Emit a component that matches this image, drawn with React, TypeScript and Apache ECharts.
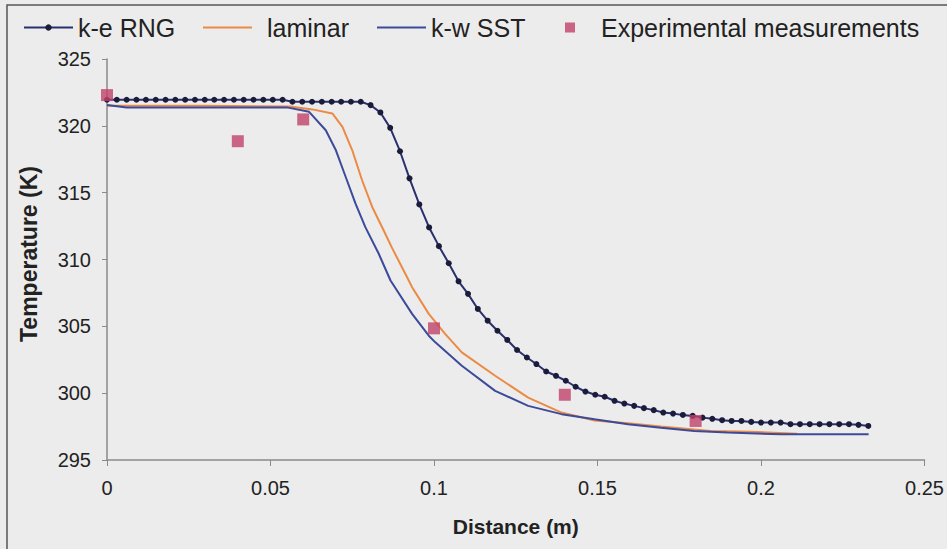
import React, { useEffect, useRef } from "react";
import * as echarts from "echarts";

const FONT = "'Liberation Sans', Arial, sans-serif";

// k-e RNG (distance m, temperature K)
const rngDistance = [
  0, 0.003, 0.006, 0.009, 0.0119, 0.0149, 0.0179, 0.0209, 0.0239, 0.0269,
  0.0299, 0.0328, 0.0358, 0.0388, 0.0418, 0.0448, 0.0478, 0.0507, 0.0537, 0.0567,
  0.0597, 0.0627, 0.0657, 0.0687, 0.0716, 0.0746, 0.0776, 0.0806, 0.0836, 0.0866,
  0.0896, 0.0925, 0.0955, 0.0985, 0.1015, 0.1045, 0.1075, 0.1104, 0.1134, 0.1164,
  0.1194, 0.1224, 0.1254, 0.1284, 0.1313, 0.1343, 0.1373, 0.1403, 0.1433, 0.1463,
  0.1493, 0.1522, 0.1552, 0.1582, 0.1612, 0.1642, 0.1672, 0.1701, 0.1731, 0.1761,
  0.1791, 0.1821, 0.1851, 0.1881, 0.191, 0.194, 0.197, 0.2, 0.203, 0.206,
  0.209, 0.2119, 0.2149, 0.2179, 0.2209, 0.2239, 0.2269, 0.2298, 0.2328,
];
const rngTemp = [
  321.95, 321.95, 321.95, 321.95, 321.95, 321.95, 321.95, 321.95, 321.95, 321.95,
  321.95, 321.95, 321.95, 321.95, 321.95, 321.95, 321.95, 321.95, 321.95, 321.8,
  321.8, 321.8, 321.8, 321.8, 321.8, 321.8, 321.8, 321.55, 321.0, 319.85,
  318.1, 316.07, 314.12, 312.4, 311.0, 309.72, 308.37, 307.43, 306.3, 305.42,
  304.67, 303.98, 303.23, 302.67, 302.18, 301.62, 301.3, 300.93, 300.48, 300.12,
  299.88, 299.73, 299.43, 299.22, 299.05, 298.88, 298.73, 298.55, 298.47, 298.37,
  298.3, 298.17, 298.08, 297.98, 297.92, 297.92, 297.85, 297.8, 297.8, 297.8,
  297.68, 297.68, 297.68, 297.68, 297.68, 297.68, 297.68, 297.63, 297.55,
];

// laminar
const lamDistance = [
  0, 0.03, 0.056, 0.0628, 0.0689, 0.072, 0.075, 0.078, 0.0811, 0.0841, 0.0872,
  0.0913, 0.0933, 0.0984, 0.1034, 0.1085, 0.1187, 0.1288, 0.139, 0.1491, 0.1593,
  0.1694, 0.1846, 0.1968, 0.211,
];
const lamTemp = [
  321.5, 321.5, 321.45, 321.23, 320.93, 319.92, 318.17, 315.93, 313.93, 312.43, 310.85,
  308.9, 307.93, 305.93, 304.43, 303.05, 301.3, 299.67, 298.55, 297.95, 297.75,
  297.5, 297.17, 297.12, 296.97,
];

// k-w SST
const sstDistance = [
  0, 0.006, 0.055, 0.0618, 0.0669, 0.07, 0.073, 0.076, 0.079, 0.0831, 0.0867,
  0.0933, 0.0984, 0.1004, 0.1085, 0.1187, 0.1288, 0.139, 0.1491, 0.1593,
  0.1694, 0.1796, 0.1897, 0.206, 0.2329,
];
const sstTemp = [
  321.55, 321.38, 321.38, 321.05, 319.67, 318.17, 316.17, 314.18, 312.42, 310.43, 308.43,
  305.93, 304.3, 303.8, 302.05, 300.17, 299.05, 298.43, 298.05, 297.68,
  297.42, 297.17, 297.05, 296.93, 296.93,
];

// Experimental measurements
const expDistance = [0, 0.04, 0.06, 0.1, 0.14, 0.18];
const expTemp = [322.3, 318.85, 320.48, 304.85, 299.88, 297.92];

const xTicks = { min: 0, max: 0.25, interval: 0.05 };
const yTicks = { min: 295, max: 325, interval: 5 };

const zip = (xs: number[], ys: number[]) => xs.map((x, i) => [x, ys[i]]);

export default function App() {
  const ref = useRef<HTMLDivElement>(null);
  useEffect(() => {
    if (!ref.current) return;
    const chart = echarts.init(ref.current, undefined, { renderer: "svg" });
    const legendText = { fontSize: 25, fontFamily: FONT, color: "#222" };
    chart.setOption({
      animation: false,
      backgroundColor: "#ececec",
      graphic: [
        {
          type: "rect",
          shape: { x: 7, y: 5, width: 1000, height: 1000 },
          style: { fill: "none", stroke: "#555", lineWidth: 1.5 },
          silent: true,
        },
        {
          type: "text",
          x: 29,
          y: 254,
          rotation: Math.PI / 2,
          style: {
            text: "Temperature (K)",
            font: `bold 23px ${FONT}`,
            fill: "#222",
            textAlign: "center",
            textVerticalAlign: "middle",
          },
          silent: true,
        },
      ],
      grid: { left: 107, right: 19, top: 59, bottom: 89 },
      legend: [
        {
          data: [{ name: "k-e RNG" }],
          left: 23, top: 15, padding: 0,
          itemWidth: 49, itemHeight: 8,
          textStyle: legendText,
        },
        {
          data: [{ name: "laminar", icon: "rect" }],
          left: 203, top: 15, padding: 0,
          itemWidth: 49, itemHeight: 2, symbolKeepAspect: false,
          textStyle: { ...legendText, padding: [0, 0, 0, 10] },
        },
        {
          data: [{ name: "k-w SST", icon: "rect" }],
          left: 377, top: 15, padding: 0,
          itemWidth: 49, itemHeight: 2, symbolKeepAspect: false,
          textStyle: legendText,
        },
        {
          data: [{ name: "Experimental measurements", icon: "rect" }],
          left: 565, top: 15, padding: 0,
          itemWidth: 10, itemHeight: 10,
          textStyle: { ...legendText, padding: [0, 0, 0, 21] },
        },
      ],
      xAxis: {
        type: "value",
        ...xTicks,
        name: "Distance (m)",
        nameLocation: "middle",
        nameGap: 56,
        nameTextStyle: { fontSize: 21, fontWeight: "bold", fontFamily: FONT, color: "#222" },
        axisLine: { lineStyle: { color: "#8a8a8a", width: 1.5 } },
        axisTick: { show: true, length: 6, lineStyle: { color: "#8a8a8a" } },
        axisLabel: { fontSize: 20, fontFamily: FONT, color: "#222", margin: 18 },
        splitLine: { show: false },
      },
      yAxis: {
        type: "value",
        ...yTicks,
        axisLine: { show: true, lineStyle: { color: "#8a8a8a", width: 1.5 } },
        axisTick: { show: true, length: 5, lineStyle: { color: "#8a8a8a" } },
        axisLabel: { fontSize: 20, fontFamily: FONT, color: "#222", margin: 16 },
        splitLine: { show: false },
      },
      series: [
        {
          name: "k-e RNG",
          type: "line",
          data: zip(rngDistance, rngTemp),
          symbol: "circle",
          symbolSize: 6,
          showSymbol: true,
          lineStyle: { color: "#2a2f6e", width: 2 },
          itemStyle: { color: "#1b1c3a" },
          z: 3,
        },
        {
          name: "laminar",
          type: "line",
          data: zip(lamDistance, lamTemp),
          symbol: "none",
          lineStyle: { color: "#ec8a45", width: 2 },
          itemStyle: { color: "#ec8a45" },
          z: 2,
        },
        {
          name: "k-w SST",
          type: "line",
          data: zip(sstDistance, sstTemp),
          symbol: "none",
          lineStyle: { color: "#3c4a9a", width: 2 },
          itemStyle: { color: "#3c4a9a" },
          z: 2,
        },
        {
          name: "Experimental measurements",
          type: "scatter",
          data: zip(expDistance, expTemp),
          symbol: "rect",
          symbolSize: 12,
          itemStyle: { color: "#c2426b" },
          z: 5,
        },
      ],
    });
    return () => chart.dispose();
  }, []);
  return (
    <div
      ref={ref}
      style={{ position: "absolute", left: 0, top: 0, width: 947, height: 549 }}
    />
  );
}
